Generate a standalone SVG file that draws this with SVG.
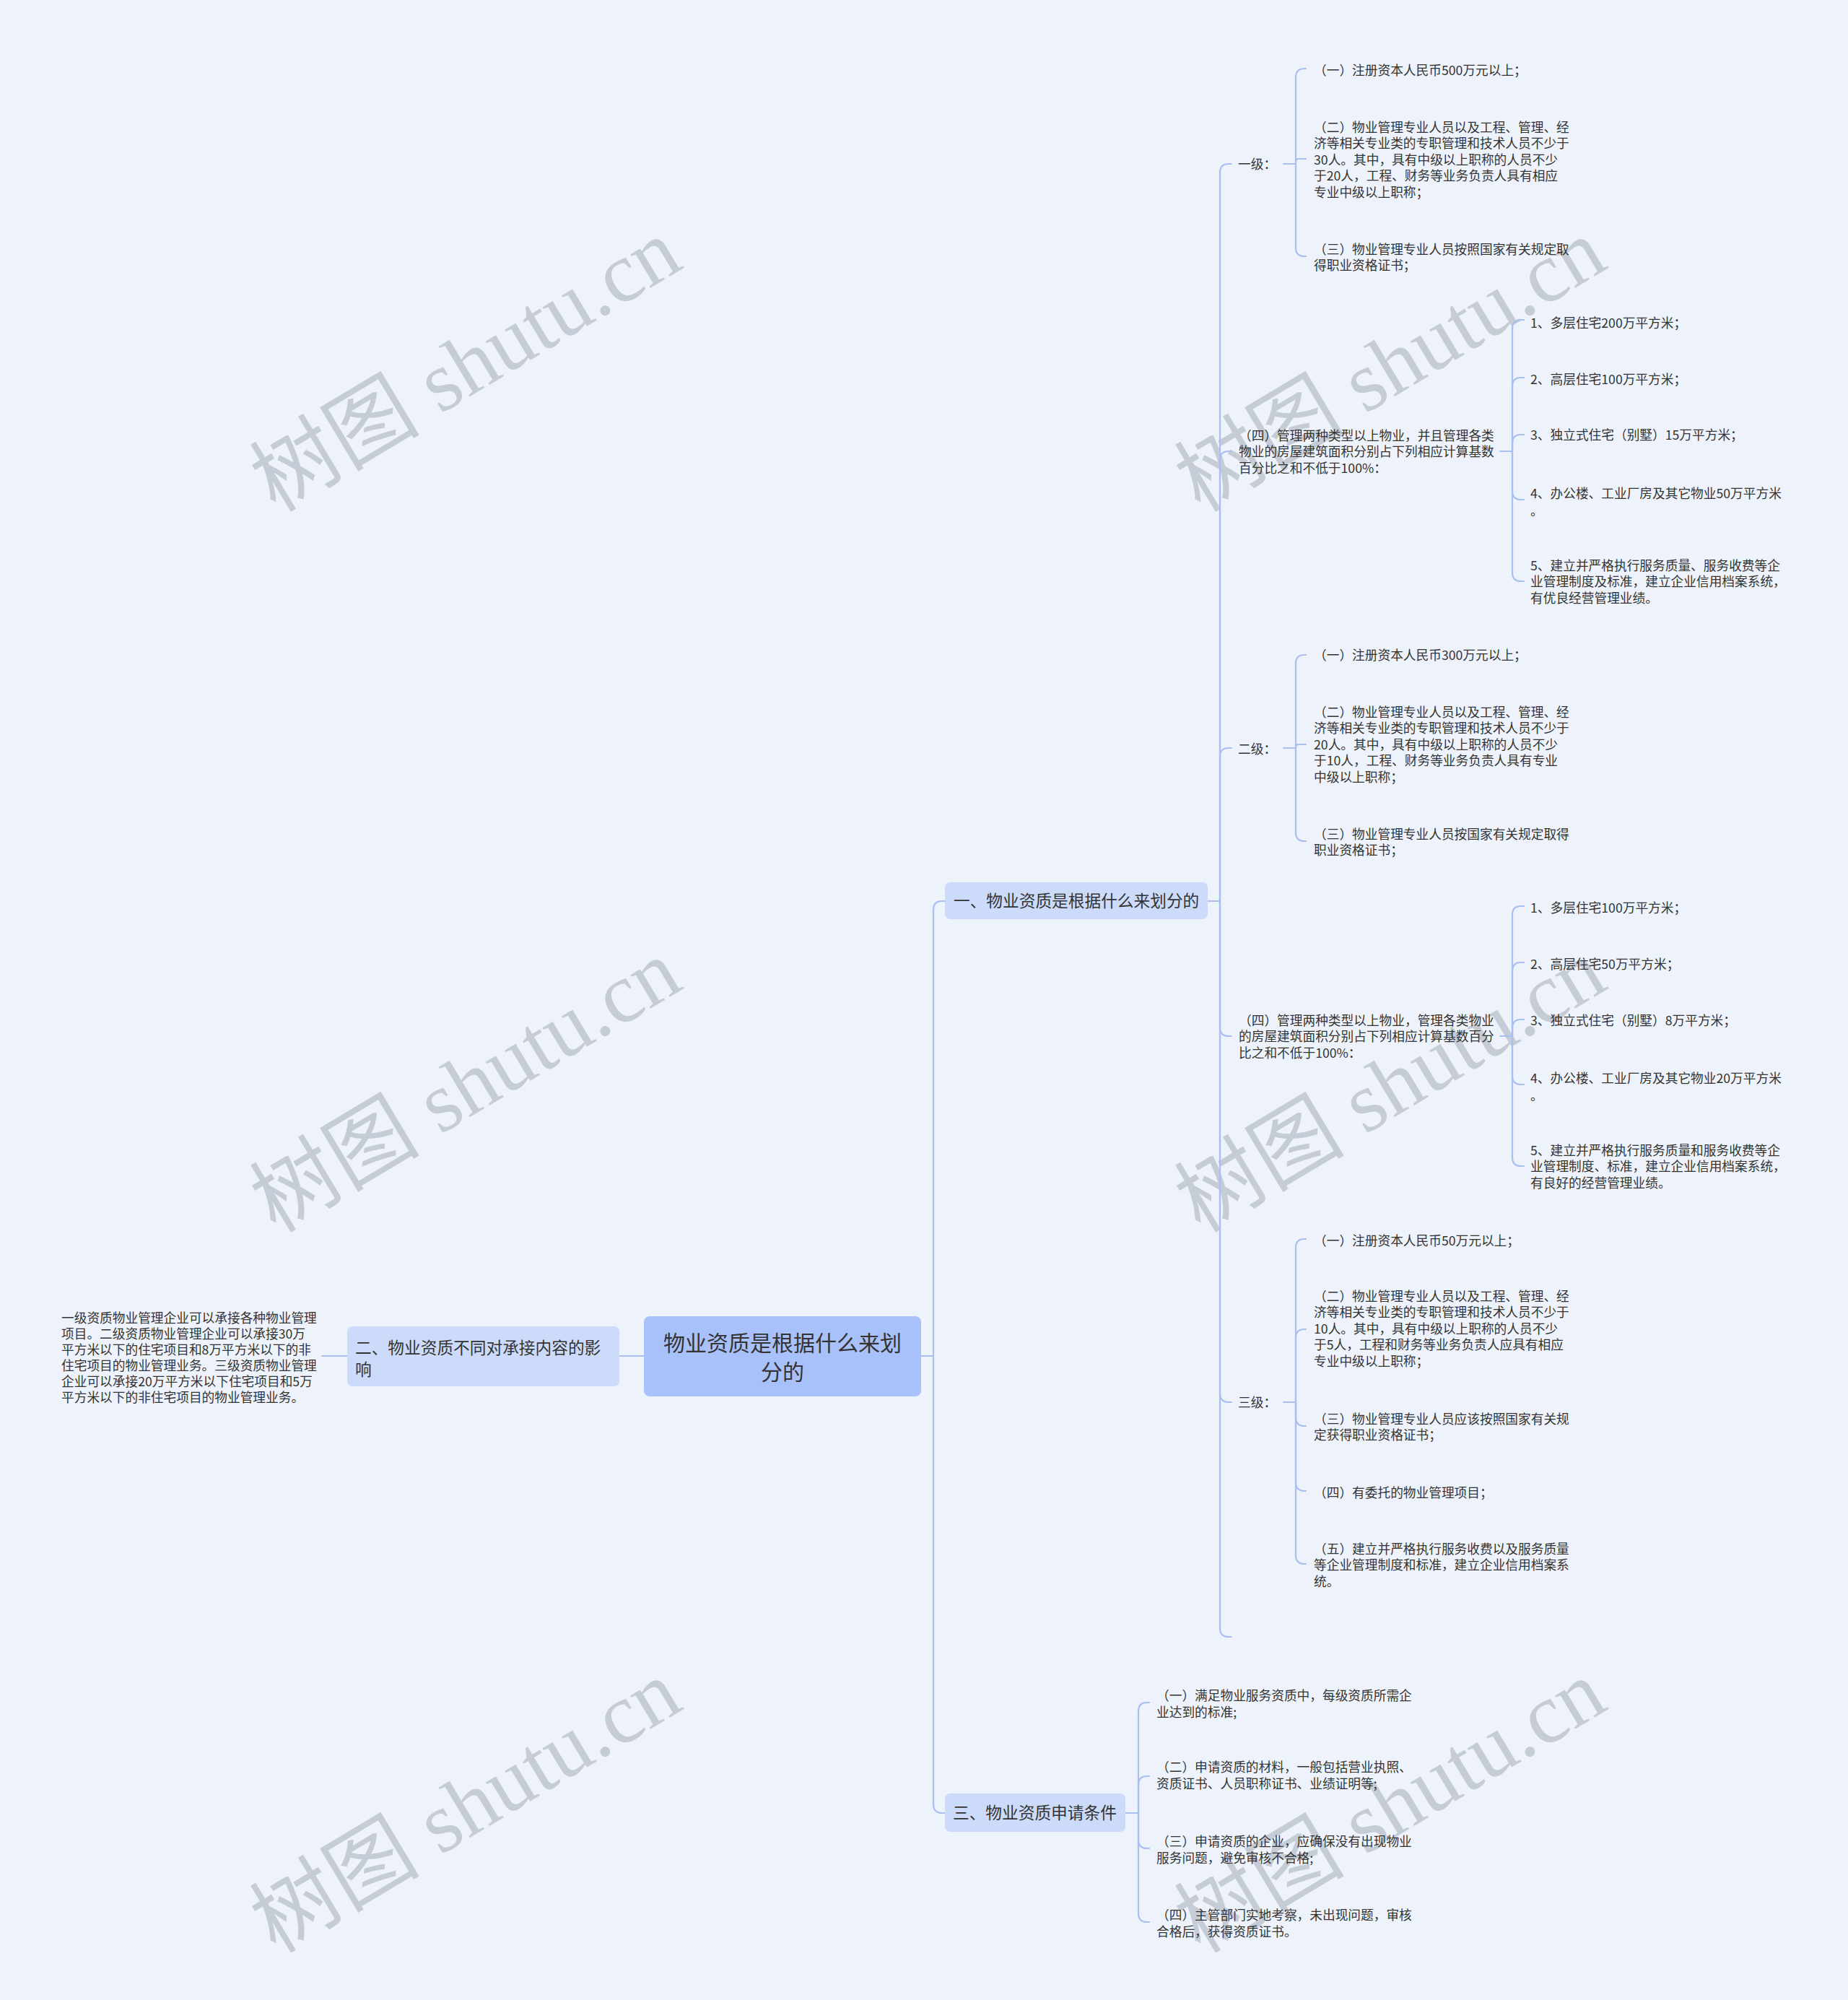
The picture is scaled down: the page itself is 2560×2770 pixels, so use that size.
<svg xmlns="http://www.w3.org/2000/svg" width="2560" height="2770" viewBox="0 0 2560 2770">
<style>
.t{font-family:"Noto Sans CJK SC","Noto Sans",sans-serif;fill:#333333}
.s{font-size:17.7px}
.m{font-size:22.7px}
.r{font-size:30px}
.c path{fill:none;stroke:#a8bff0;stroke-width:2.2;stroke-linecap:round}
.wm{font-family:"Liberation Serif","Noto Sans CJK SC",serif;font-size:118px;fill:#c6ccd6}
.n0{fill:#a9c1fa}
.n1{fill:#ccdbfa}
</style>
<rect x="0" y="0" width="2560" height="2770" fill="#eef3fb"/>
<g id="watermarks">
<text class="wm" text-anchor="middle" transform="translate(645,506) rotate(-31)" y="40">树图 shutu.cn</text>
<text class="wm" text-anchor="middle" transform="translate(1926,506) rotate(-31)" y="40">树图 shutu.cn</text>
<text class="wm" text-anchor="middle" transform="translate(645,1504) rotate(-31)" y="40">树图 shutu.cn</text>
<text class="wm" text-anchor="middle" transform="translate(1926,1504) rotate(-31)" y="40">树图 shutu.cn</text>
<text class="wm" text-anchor="middle" transform="translate(645,2502) rotate(-31)" y="40">树图 shutu.cn</text>
<text class="wm" text-anchor="middle" transform="translate(1926,2502) rotate(-31)" y="40">树图 shutu.cn</text>
</g>
<g id="connectors" class="c">
<path d="M892 1878 H858"/>
<path d="M481 1878 H446"/>
<path d="M1276 1878 H1293"/>
<path d="M1293 1878 V1260 Q1293 1248 1305 1248 H1309"/>
<path d="M1293 1878 V2499 Q1293 2511 1305 2511 H1309"/>
<path d="M1673 1248 H1690"/>
<path d="M1690 1248 V239 Q1690 227 1702 227 H1706"/>
<path d="M1690 1248 V637 Q1690 625 1702 625 H1706"/>
<path d="M1690 1248 V1048 Q1690 1036 1702 1036 H1706"/>
<path d="M1690 1248 V1423 Q1690 1435 1702 1435 H1706"/>
<path d="M1690 1248 V1930 Q1690 1942 1702 1942 H1706"/>
<path d="M1690 1248 V2255 Q1690 2267 1702 2267 H1706"/>
<path d="M1778 227 H1795"/>
<path d="M1795 227 V107 Q1795 95 1807 95 H1809"/>
<path d="M1795 227 V224 Q1795 220 1799 220 H1809"/>
<path d="M1795 227 V343 Q1795 355 1807 355 H1809"/>
<path d="M1778 1036 H1795"/>
<path d="M1795 1036 V919 Q1795 907 1807 907 H1809"/>
<path d="M1795 1036 V1035 Q1795 1031 1799 1031 H1809"/>
<path d="M1795 1036 V1153 Q1795 1165 1807 1165 H1809"/>
<path d="M1778 1942 H1795"/>
<path d="M1795 1942 V1728 Q1795 1716 1807 1716 H1809"/>
<path d="M1795 1942 V1853 Q1795 1841 1807 1841 H1809"/>
<path d="M1795 1942 V1963 Q1795 1975 1807 1975 H1809"/>
<path d="M1795 1942 V2053 Q1795 2065 1807 2065 H1809"/>
<path d="M1795 1942 V2154 Q1795 2166 1807 2166 H1809"/>
<path d="M2078 625 H2095"/>
<path d="M2095 625 V455 Q2095 443 2107 443 H2111"/>
<path d="M2095 625 V535 Q2095 523 2107 523 H2111"/>
<path d="M2095 625 V614 Q2095 602 2107 602 H2111"/>
<path d="M2095 625 V680 Q2095 692 2107 692 H2111"/>
<path d="M2095 625 V793 Q2095 805 2107 805 H2111"/>
<path d="M2078 1435 H2095"/>
<path d="M2095 1435 V1267 Q2095 1255 2107 1255 H2111"/>
<path d="M2095 1435 V1345 Q2095 1333 2107 1333 H2111"/>
<path d="M2095 1435 V1424 Q2095 1412 2107 1412 H2111"/>
<path d="M2095 1435 V1490 Q2095 1502 2107 1502 H2111"/>
<path d="M2095 1435 V1603 Q2095 1615 2107 1615 H2111"/>
<path d="M1559 2511 H1577"/>
<path d="M1577 2511 V2370 Q1577 2358 1589 2358 H1592"/>
<path d="M1577 2511 V2472 Q1577 2460 1589 2460 H1592"/>
<path d="M1577 2511 V2548 Q1577 2560 1589 2560 H1592"/>
<path d="M1577 2511 V2650 Q1577 2662 1589 2662 H1592"/>
</g>
<g id="root">
<rect class="n0" x="892" y="1823" width="384" height="111" rx="8"/>
<text class="t r" text-anchor="middle"><tspan x="1084" y="1871">物业资质是根据什么来划</tspan><tspan x="1084" y="1911">分的</tspan></text>
</g>
<g id="node-2">
<rect class="n1" x="481" y="1837" width="377" height="83" rx="7"/>
<text class="t m"><tspan x="492" y="1875.4">二、物业资质不同对承接内容的影</tspan><tspan x="492" y="1905.4">响</tspan></text>
</g>
<g id="node-2-leaf">
<text class="t s"><tspan x="85" y="1831.5">一级资质物业管理企业可以承接各种物业管理</tspan><tspan x="85" dy="22">项目。二级资质物业管理企业可以承接30万</tspan><tspan x="85" dy="22">平方米以下的住宅项目和8万平方米以下的非</tspan><tspan x="85" dy="22">住宅项目的物业管理业务。三级资质物业管理</tspan><tspan x="85" dy="22">企业可以承接20万平方米以下住宅项目和5万</tspan><tspan x="85" dy="22">平方米以下的非住宅项目的物业管理业务。</tspan></text>
</g>
<g id="node-1">
<rect class="n1" x="1309" y="1222" width="364" height="51" rx="7"/>
<text class="t m" x="1321" y="1256.4">一、物业资质是根据什么来划分的</text>
</g>
<g id="node-3">
<rect class="n1" x="1309" y="2484" width="250" height="53" rx="7"/>
<text class="t m" x="1320" y="2519.4">三、物业资质申请条件</text>
</g>
<g id="level-1">
<text class="t s" x="1715" y="233.5">一级：</text>
</g>
<g id="level-1-c1"><text class="t s" x="1820" y="103.5">（一）注册资本人民币500万元以上；</text></g>
<g id="level-1-c2"><text class="t s"><tspan x="1820" y="182.5">（二）物业管理专业人员以及工程、管理、经</tspan><tspan x="1820" dy="22.6">济等相关专业类的专职管理和技术人员不少于</tspan><tspan x="1820" dy="22.6">30人。其中，具有中级以上职称的人员不少</tspan><tspan x="1820" dy="22.6">于20人，工程、财务等业务负责人具有相应</tspan><tspan x="1820" dy="22.6">专业中级以上职称；</tspan></text></g>
<g id="level-1-c3"><text class="t s"><tspan x="1820" y="351.5">（三）物业管理专业人员按照国家有关规定取</tspan><tspan x="1820" dy="22.6">得职业资格证书；</tspan></text></g>
<g id="level-1-area">
<text class="t s"><tspan x="1716" y="609.5">（四）管理两种类型以上物业，并且管理各类</tspan><tspan x="1716" dy="22.6">物业的房屋建筑面积分别占下列相应计算基数</tspan><tspan x="1716" dy="22.6">百分比之和不低于100%：</tspan></text>
</g>
<g id="level-1-area-1"><text class="t s" x="2120" y="453.5">1、多层住宅200万平方米；</text></g>
<g id="level-1-area-2"><text class="t s" x="2120" y="531.5">2、高层住宅100万平方米；</text></g>
<g id="level-1-area-3"><text class="t s" x="2120" y="608.5">3、独立式住宅（别墅）15万平方米；</text></g>
<g id="level-1-area-4"><text class="t s"><tspan x="2120" y="689.5">4、办公楼、工业厂房及其它物业50万平方米</tspan><tspan x="2120" dy="24">。</tspan></text></g>
<g id="level-1-area-5"><text class="t s"><tspan x="2120" y="789.5">5、建立并严格执行服务质量、服务收费等企</tspan><tspan x="2120" dy="22.6">业管理制度及标准，建立企业信用档案系统，</tspan><tspan x="2120" dy="22.6">有优良经营管理业绩。</tspan></text></g>
<g id="level-2">
<text class="t s" x="1715" y="1043.5">二级：</text>
</g>
<g id="level-2-c1"><text class="t s" x="1820" y="913.5">（一）注册资本人民币300万元以上；</text></g>
<g id="level-2-c2"><text class="t s"><tspan x="1820" y="992.5">（二）物业管理专业人员以及工程、管理、经</tspan><tspan x="1820" dy="22.6">济等相关专业类的专职管理和技术人员不少于</tspan><tspan x="1820" dy="22.6">20人。其中，具有中级以上职称的人员不少</tspan><tspan x="1820" dy="22.6">于10人，工程、财务等业务负责人具有专业</tspan><tspan x="1820" dy="22.6">中级以上职称；</tspan></text></g>
<g id="level-2-c3"><text class="t s"><tspan x="1820" y="1161.5">（三）物业管理专业人员按国家有关规定取得</tspan><tspan x="1820" dy="22.6">职业资格证书；</tspan></text></g>
<g id="level-2-area">
<text class="t s"><tspan x="1716" y="1419.5">（四）管理两种类型以上物业，管理各类物业</tspan><tspan x="1716" dy="22.6">的房屋建筑面积分别占下列相应计算基数百分</tspan><tspan x="1716" dy="22.6">比之和不低于100%：</tspan></text>
</g>
<g id="level-2-area-1"><text class="t s" x="2120" y="1263.5">1、多层住宅100万平方米；</text></g>
<g id="level-2-area-2"><text class="t s" x="2120" y="1341.5">2、高层住宅50万平方米；</text></g>
<g id="level-2-area-3"><text class="t s" x="2120" y="1419.5">3、独立式住宅（别墅）8万平方米；</text></g>
<g id="level-2-area-4"><text class="t s"><tspan x="2120" y="1499.5">4、办公楼、工业厂房及其它物业20万平方米</tspan><tspan x="2120" dy="24">。</tspan></text></g>
<g id="level-2-area-5"><text class="t s"><tspan x="2120" y="1599.5">5、建立并严格执行服务质量和服务收费等企</tspan><tspan x="2120" dy="22.6">业管理制度、标准，建立企业信用档案系统，</tspan><tspan x="2120" dy="22.6">有良好的经营管理业绩。</tspan></text></g>
<g id="level-3">
<text class="t s" x="1715" y="1948.5">三级：</text>
</g>
<g id="level-3-c1"><text class="t s" x="1820" y="1724.5">（一）注册资本人民币50万元以上；</text></g>
<g id="level-3-c2"><text class="t s"><tspan x="1820" y="1801.5">（二）物业管理专业人员以及工程、管理、经</tspan><tspan x="1820" dy="22.6">济等相关专业类的专职管理和技术人员不少于</tspan><tspan x="1820" dy="22.6">10人。其中，具有中级以上职称的人员不少</tspan><tspan x="1820" dy="22.6">于5人，工程和财务等业务负责人应具有相应</tspan><tspan x="1820" dy="22.6">专业中级以上职称；</tspan></text></g>
<g id="level-3-c3"><text class="t s"><tspan x="1820" y="1971.5">（三）物业管理专业人员应该按照国家有关规</tspan><tspan x="1820" dy="22.6">定获得职业资格证书；</tspan></text></g>
<g id="level-3-c4"><text class="t s" x="1820" y="2073.5">（四）有委托的物业管理项目；</text></g>
<g id="level-3-c5"><text class="t s"><tspan x="1820" y="2151.5">（五）建立并严格执行服务收费以及服务质量</tspan><tspan x="1820" dy="22.6">等企业管理制度和标准，建立企业信用档案系</tspan><tspan x="1820" dy="22.6">统。</tspan></text></g>
<g id="node-3-c1"><text class="t s"><tspan x="1602" y="2354.5">（一）满足物业服务资质中，每级资质所需企</tspan><tspan x="1602" dy="23">业达到的标准;</tspan></text></g>
<g id="node-3-c2"><text class="t s"><tspan x="1602" y="2453.5">（二）申请资质的材料，一般包括营业执照、</tspan><tspan x="1602" dy="23">资质证书、人员职称证书、业绩证明等;</tspan></text></g>
<g id="node-3-c3"><text class="t s"><tspan x="1602" y="2556.5">（三）申请资质的企业，应确保没有出现物业</tspan><tspan x="1602" dy="23">服务问题，避免审核不合格;</tspan></text></g>
<g id="node-3-c4"><text class="t s"><tspan x="1602" y="2658.5">（四）主管部门实地考察，未出现问题，审核</tspan><tspan x="1602" dy="23">合格后，获得资质证书。</tspan></text></g>
</svg>
